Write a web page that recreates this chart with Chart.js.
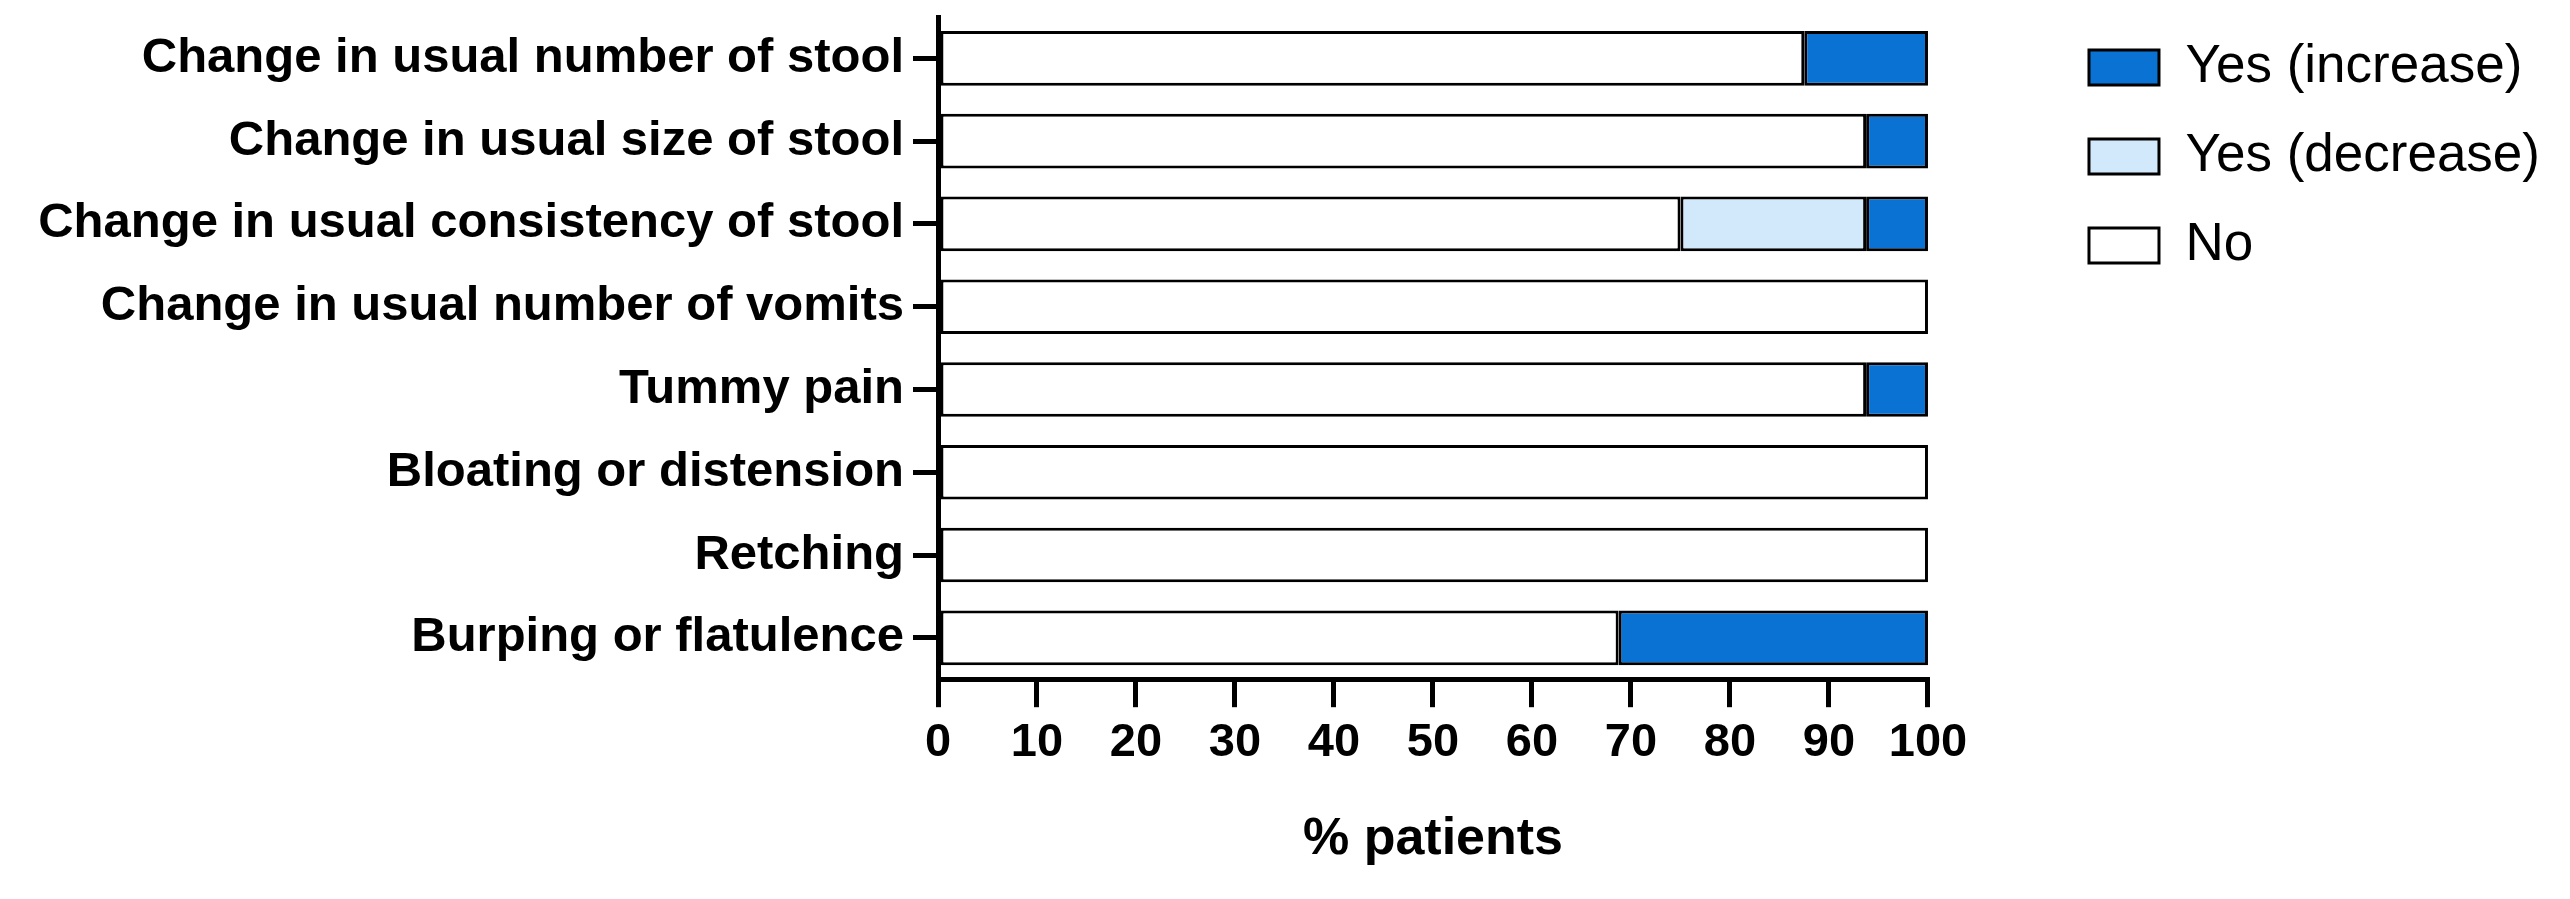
<!DOCTYPE html>
<html>
<head>
<meta charset="utf-8">
<script src="https://cdn.jsdelivr.net/npm/chart.js@4/dist/chart.umd.min.js"></script>
<style>
  html, body { margin: 0; padding: 0; background: #fff; }
  #wrap { width: 2570px; height: 899px; }
</style>
</head>
<body>
<div id="wrap"><canvas id="myChart"></canvas></div>
<script>
const categories = [
  'Change in usual number of stool',
  'Change in usual size of stool',
  'Change in usual consistency of stool',
  'Change in usual number of vomits',
  'Tummy pain',
  'Bloating or distension',
  'Retching',
  'Burping or flatulence',
];

const noValues       = [87.5, 93.75, 75, 100, 93.75, 100, 100, 68.75];
const decreaseValues = [0, 0, 18.75, 0, 0, 0, 0, 0];
const increaseValues = [12.5, 6.25, 6.25, 0, 6.25, 0, 0, 31.25];

const xMin = 0;
const xMax = 100;
const xStep = 10;

const font = "'Liberation Sans', Arial, Helvetica, sans-serif";

const data = {
  labels: categories,
  datasets: [{
    label: 'No',
    data: noValues,
    backgroundColor: '#ffffff',
  }, {
    label: 'Yes (decrease)',
    data: decreaseValues,
    backgroundColor: '#d2e8fb',
  }, {
    label: 'Yes (increase)',
    data: increaseValues,
    backgroundColor: '#0a72d2',
  }]
};

data.datasets.forEach(ds => {
  ds.borderColor = '#000000';
  ds.borderWidth = 3;
  ds.borderSkipped = false;
  ds.categoryPercentage = 1;
  ds.barPercentage = 0.66;
});

const config = {
  type: 'bar',
  data: data,
  options: {
    indexAxis: 'y',
    responsive: true,
    maintainAspectRatio: false,
    devicePixelRatio: 1,
    animation: false,
    layout: { padding: { top: 5, right: 20, bottom: 0, left: 0 } },
    scales: {
      x: {
        stacked: true,
        min: xMin,
        max: xMax,
        ticks: {
          stepSize: xStep,
          color: '#000',
          padding: 8,
          font: { family: font, size: 47, weight: 'bold' }
        },
        grid: {
          drawOnChartArea: false,
          drawTicks: true,
          tickLength: 28,
          lineWidth: 5,
          color: '#000'
        },
        border: { display: true, width: 5, color: '#000' },
        title: {
          display: true,
          text: '% patients',
          color: '#000',
          font: { family: font, size: 52, weight: 'bold' },
          padding: { top: 29, bottom: 28 }
        }
      },
      y: {
        stacked: true,
        afterFit: s => { s.width = 938; s.paddingTop = 17; },
        ticks: {
          color: '#000',
          padding: 9,
          font: { family: font, size: 49, weight: 'bold' }
        },
        grid: {
          offset: false,
          drawOnChartArea: false,
          drawTicks: true,
          tickLength: 25,
          lineWidth: 5,
          color: '#000'
        },
        border: { display: true, width: 5, color: '#000' }
      },
      // empty right-hand axis, only keeps the gap between bars and legend
      gap: {
        axis: 'y',
        type: 'category',
        position: 'right',
        display: true,
        afterFit: s => { s.width = 125; },
        ticks: { display: false },
        grid: { display: false },
        border: { display: false }
      }
    },
    plugins: {
      tooltip: { enabled: false },
      legend: {
        position: 'right',
        align: 'start',
        reverse: true,
        maxWidth: 700,
        labels: {
          boxWidth: 70,
          boxHeight: 35,
          padding: 36,
          color: '#000',
          font: { family: font, size: 53 }
        }
      }
    }
  }
};

const myChart = new Chart(
  document.getElementById('myChart'),
  config
);
</script>
</body>
</html>
